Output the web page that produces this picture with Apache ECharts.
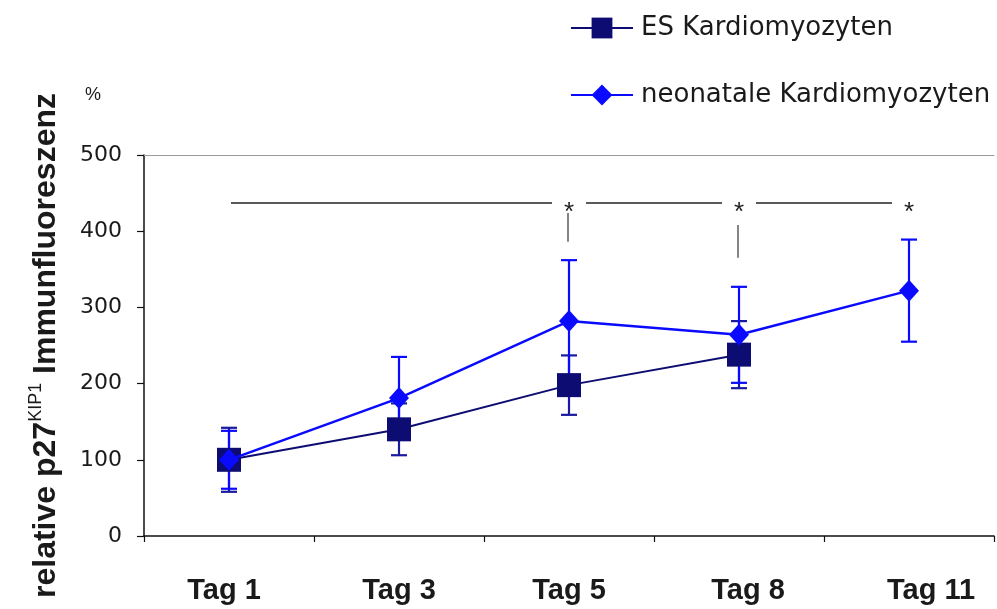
<!DOCTYPE html>
<html>
<head>
<meta charset="utf-8">
<script src="https://cdn.jsdelivr.net/npm/echarts@6/dist/echarts.min.js"></script>
<style>
  html, body { margin: 0; padding: 0; background: #fff; }
  #chart { width: 997px; height: 609px; }
</style>
</head>
<body>
<div id="chart"></div>
<script>
// Days of culture
const days = ['Tag 1', 'Tag 3', 'Tag 5', 'Tag 8', 'Tag 11'];

// Mean relative p27 immunofluorescence (%) and standard deviations
const esMean = [100, 140, 198, 238, null];
const esSd = [42, 34, 39, 44, null];
const neoMean = [100, 181, 282, 264, 322];
const neoSd = [38, 54, 80, 63, 67];

// Significance markers
const sigLevel = 437;
const sigDays = ['Tag 5', 'Tag 8', 'Tag 11'];
const sigTicks = [['Tag 5', 424, 386], ['Tag 8', 408, 365]];

const yTicks = [0, 100, 200, 300, 400, 500];

const esColor = '#0c0c72';
const neoColor = '#0a0aff';
const textColor = '#1a1a1a';

// small horizontal nudges for the day labels (px, [left, right] padding)
const labelPad = [[0, 10], [0, 0], [0, 0], [18, 0], [44, 0]];

function errorData(mean, sd) {
  const out = [];
  mean.forEach((m, i) => { if (m != null) out.push([i, m, sd[i]]); });
  return out;
}

function errorBarSeries(mean, sd, color) {
  return {
    type: 'custom',
    z: 2,
    silent: true,
    data: errorData(mean, sd),
    renderItem: function (params, api) {
      const i = api.value(0), m = api.value(1), s = api.value(2);
      const top = api.coord([i, m + s]);
      const bot = api.coord([i, m - s]);
      const w = 8;
      const st = { stroke: color, lineWidth: 2.2 };
      return {
        type: 'group',
        children: [
          { type: 'line', shape: { x1: top[0], y1: top[1], x2: bot[0], y2: bot[1] }, style: st },
          { type: 'line', shape: { x1: top[0] - w, y1: top[1], x2: top[0] + w, y2: top[1] }, style: st },
          { type: 'line', shape: { x1: bot[0] - w, y1: bot[1], x2: bot[0] + w, y2: bot[1] }, style: st }
        ]
      };
    }
  };
}

const chart = echarts.init(document.getElementById('chart'));

chart.setOption({
  backgroundColor: '#fff',
  animation: false,
  grid: { left: 144, right: 3, top: 155, bottom: 73, containLabel: false },
  legend: {
    orient: 'vertical',
    left: 570,
    top: 15,
    padding: 0,
    itemWidth: 62,
    itemHeight: 26,
    itemGap: 41,
    textStyle: { fontFamily: 'DejaVu Sans, sans-serif', fontSize: 26, color: textColor, padding: [0, 0, 0, 3] },
    data: ['ES Kardiomyozyten', 'neonatale Kardiomyozyten']
  },
  graphic: [{
    type: 'text', left: 85, top: 86,
    style: { text: '%', fontFamily: 'Liberation Sans, Arial, sans-serif', fontSize: 18, fill: textColor }
  }],
  xAxis: [{
    type: 'category',
    data: days.map(function (d, i) {
      return { value: d, textStyle: { padding: [0, labelPad[i][1], 0, labelPad[i][0]] } };
    }),
    boundaryGap: true,
    axisLine: { lineStyle: { color: '#111', width: 1.5 } },
    axisTick: { show: true, length: 6, lineStyle: { color: '#111', width: 1.2 } },
    axisLabel: {
      margin: 40,
      fontFamily: 'Liberation Sans, Arial, sans-serif',
      fontWeight: 'bold',
      fontSize: 29,
      color: textColor
    }
  }, {
    type: 'category',
    position: 'top',
    data: days,
    axisLine: { show: true, lineStyle: { color: '#999', width: 1 } },
    axisTick: { show: false },
    axisLabel: { show: false }
  }],
  yAxis: {
    type: 'value',
    min: 0,
    max: 500,
    interval: 100,
    splitLine: { show: false },
    axisLine: { show: true, lineStyle: { color: '#111', width: 1.5 } },
    axisTick: { show: true, length: 7, lineStyle: { color: '#111', width: 1.2 } },
    axisLabel: {
      margin: 22,
      fontFamily: 'DejaVu Sans, sans-serif',
      fontSize: 22,
      color: textColor,
      formatter: function (v) { return yTicks.indexOf(v) >= 0 ? String(v) : ''; }
    },
    name: '{a|relative p27}{b|KIP1}{a| Immunfluoreszenz}',
    nameLocation: 'middle',
    nameRotate: 90,
    nameGap: 79,
    nameTextStyle: {
      rich: {
        a: { fontFamily: 'Liberation Sans, Arial, sans-serif', fontWeight: 'bold', fontSize: 32, color: textColor, lineHeight: 38 },
        b: { fontFamily: 'Liberation Sans, Arial, sans-serif', fontSize: 18, color: textColor, verticalAlign: 'top', lineHeight: 38, padding: [0, 0, 14, 0] }
      }
    }
  },
  series: [
    errorBarSeries(esMean, esSd, '#1a1aa0'),
    errorBarSeries(neoMean, neoSd, neoColor),
    {
      name: 'ES Kardiomyozyten',
      type: 'line',
      z: 3,
      data: esMean,
      symbol: 'rect',
      symbolSize: 24,
      itemStyle: { color: esColor },
      lineStyle: { color: esColor, width: 2 }
    },
    {
      name: 'neonatale Kardiomyozyten',
      type: 'line',
      z: 4,
      data: neoMean,
      symbol: 'diamond',
      symbolSize: [20, 22],
      itemStyle: { color: neoColor },
      lineStyle: { color: neoColor, width: 2.5 }
    },
    {
      // significance bar with asterisks
      type: 'custom',
      z: 1,
      silent: true,
      data: [[0, sigLevel]],
      renderItem: function (params, api) {
        const gap = 17;
        const children = [];
        const start = api.coord([0, sigLevel]);
        let x = start[0] + 2;
        const y = start[1];
        sigDays.forEach(function (d) {
          const c = api.coord([days.indexOf(d), sigLevel]);
          children.push({ type: 'line', shape: { x1: x, y1: y, x2: c[0] - gap, y2: y }, style: { stroke: '#222', lineWidth: 1.4 } });
          children.push({
            type: 'text',
            style: { text: '*', x: c[0], y: y + 10, align: 'center', verticalAlign: 'middle', fontFamily: 'Liberation Sans, Arial, sans-serif', fontSize: 26, fill: '#222' }
          });
          x = c[0] + gap;
        });
        sigTicks.forEach(function (t) {
          const a = api.coord([days.indexOf(t[0]), t[1]]);
          const b = api.coord([days.indexOf(t[0]), t[2]]);
          children.push({ type: 'line', shape: { x1: a[0] - 1, y1: a[1], x2: b[0] - 1, y2: b[1] }, style: { stroke: '#333', lineWidth: 1.2 } });
        });
        return { type: 'group', children: children };
      }
    }
  ]
});
</script>
</body>
</html>
